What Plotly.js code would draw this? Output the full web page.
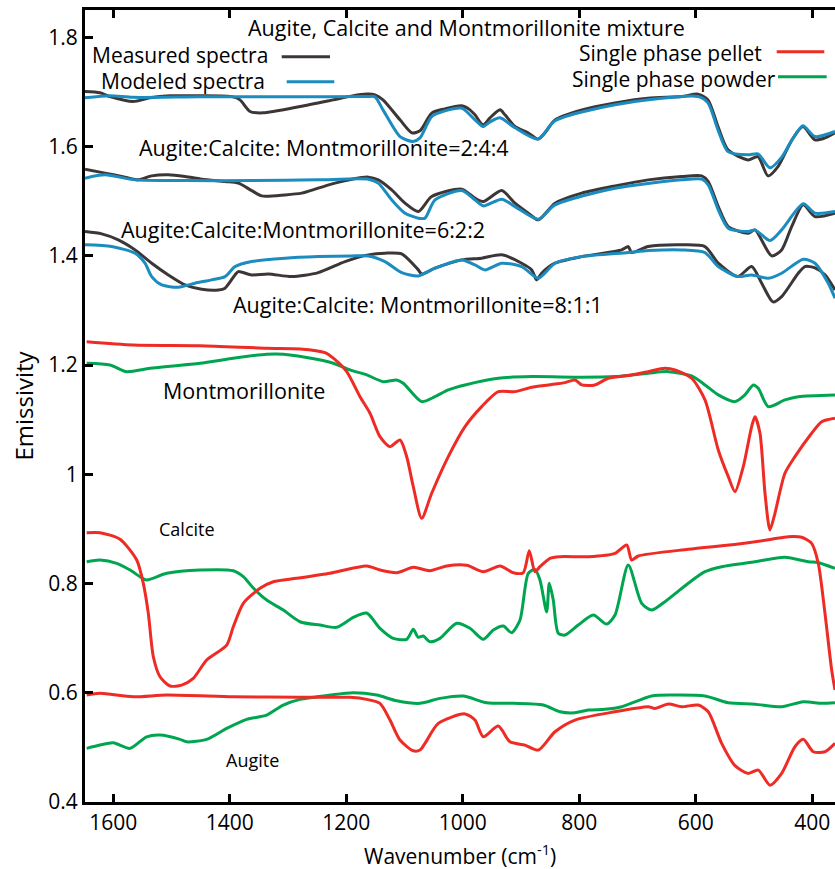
<!DOCTYPE html>
<html><head><meta charset="utf-8">
<script src="https://cdn.plot.ly/plotly-3.0.1.min.js"></script>
<style>html,body{margin:0;padding:0;background:#fff}#chart{width:835px;height:869px}</style>
</head><body><div id="chart"></div>
<script>
// ---- Mixture Augite:Calcite:Montmorillonite = 2:4:4 ----
const mix244_x_meas = [1648.6,1622.8,1605.7,1566.2,1537.0,1502.7,1451.2,1394.5,1382.5,1365.3,1343.0,1279.5,1222.8,1193.7,1164.5,1150.8,1137.0,1107.8,1087.2,1073.5,1053.4,1030.6,1001.9,987.7,979.1,965.3,953.3,936.1,927.6,910.4,888.1,870.9,858.9,841.7,795.4,738.7,682.1,623.7,596.3,579.1,561.9,544.7,510.4,493.2,476.1,458.9,434.8,416.0,395.4,378.2,361.0];
const mix244_y_meas = [1.7007,1.6984,1.6916,1.6824,1.6892,1.6929,1.6929,1.6910,1.6855,1.6641,1.6617,1.6733,1.6855,1.6919,1.6960,1.6947,1.6855,1.6489,1.6251,1.6288,1.6612,1.6690,1.6745,1.6672,1.6581,1.6397,1.6526,1.6672,1.6581,1.6366,1.6251,1.6136,1.6251,1.6489,1.6672,1.6800,1.6886,1.6916,1.6960,1.6855,1.6366,1.5940,1.5756,1.5817,1.5463,1.5634,1.6123,1.6366,1.6123,1.6159,1.6251];
const mix244_x_model = [1648.6,1605.7,1566.2,1451.2,1279.5,1164.5,1150.8,1137.0,1107.8,1085.5,1073.5,1053.4,1030.6,1001.9,979.1,965.3,953.3,936.1,910.4,870.9,841.7,738.7,596.3,579.1,561.9,544.7,510.4,493.2,472.7,452.1,434.8,416.0,395.4,361.0];
const mix244_y_model = [1.6892,1.6929,1.6901,1.6910,1.6910,1.6916,1.6910,1.6672,1.6183,1.6092,1.6159,1.6549,1.6654,1.6703,1.6489,1.6366,1.6452,1.6526,1.6343,1.6136,1.6471,1.6764,1.6916,1.6800,1.6306,1.5908,1.5848,1.5866,1.5610,1.5811,1.6123,1.6379,1.6183,1.6275];

// ---- Mixture 6:2:2 ----
const mix622_x_meas = [1648.6,1614.2,1579.9,1557.1,1534.1,1505.6,1476.9,1448.2,1408.2,1385.4,1362.4,1345.2,1305.2,1276.6,1248.1,1219.4,1190.7,1162.2,1145.1,1122.1,1099.2,1076.4,1053.4,1001.9,979.1,964.8,933.2,910.4,887.6,870.4,841.7,795.9,738.7,681.6,624.2,589.9,578.6,561.4,544.2,510.0,498.4,469.8,452.6,435.4,415.5,395.4,361.0];
const mix622_y_meas = [1.5586,1.5513,1.5440,1.5390,1.5463,1.5482,1.5451,1.5403,1.5359,1.5330,1.5194,1.5097,1.5115,1.5147,1.5238,1.5330,1.5403,1.5440,1.5390,1.5207,1.4963,1.4810,1.5084,1.5220,1.5055,1.4993,1.5194,1.4963,1.4780,1.4658,1.4963,1.5147,1.5280,1.5390,1.5451,1.5463,1.5359,1.4901,1.4535,1.4414,1.4474,1.3998,1.4108,1.4535,1.4932,1.4718,1.4780];
const mix622_x_model = [1648.6,1614.2,1562.7,1476.9,1362.4,1248.1,1162.2,1145.1,1122.1,1099.2,1076.4,1064.9,1047.7,1001.9,979.1,964.8,933.2,910.4,870.4,841.7,738.7,624.2,589.9,578.6,561.4,544.2,510.0,498.4,472.7,452.6,415.5,395.4,361.0];
const mix622_y_model = [1.5421,1.5482,1.5390,1.5377,1.5377,1.5390,1.5403,1.5330,1.5024,1.4780,1.4689,1.4689,1.5024,1.5194,1.5024,1.4914,1.5037,1.4901,1.4670,1.4932,1.5238,1.5390,1.5403,1.5299,1.4841,1.4506,1.4443,1.4474,1.4279,1.4474,1.4951,1.4780,1.4810];

// ---- Mixture 8:1:1 ----
const mix811_x_meas = [1648.6,1619.9,1591.4,1562.7,1534.1,1505.6,1476.9,1448.2,1419.7,1408.2,1391.1,1385.4,1362.4,1333.9,1293.7,1248.1,1202.2,1162.2,1133.6,1104.9,1076.4,1070.6,1047.7,1001.9,967.6,933.2,898.9,881.7,873.2,864.6,841.7,795.9,727.2,715.9,710.1,681.6,624.2,584.2,561.4,528.0,504.1,486.9,467.5,452.6,424.1,412.6,395.4,378.2,361.0];
const mix811_y_meas = [1.4443,1.4401,1.4291,1.4108,1.3864,1.3650,1.3467,1.3388,1.3375,1.3407,1.3650,1.3711,1.3650,1.3668,1.3619,1.3692,1.3894,1.4017,1.4048,1.4035,1.3742,1.3668,1.3773,1.3925,1.3957,1.4017,1.3864,1.3742,1.3559,1.3681,1.3864,1.3985,1.4108,1.4169,1.4059,1.4169,1.4200,1.4169,1.3864,1.3620,1.3803,1.3498,1.3156,1.3253,1.3681,1.3803,1.3779,1.3650,1.3375];
const mix811_x_model = [1648.6,1602.7,1562.7,1545.6,1534.1,1516.9,1488.4,1459.7,1431.1,1408.2,1391.1,1362.4,1305.2,1248.1,1190.7,1162.2,1133.6,1104.9,1076.4,1047.7,1001.9,979.1,961.9,933.2,898.9,870.4,841.7,795.9,715.9,681.6,624.2,584.2,561.4,528.0,504.1,475.6,452.6,415.5,395.4,372.6,361.0];
const mix811_y_model = [1.4200,1.4169,1.4048,1.3864,1.3619,1.3467,1.3425,1.3498,1.3559,1.3619,1.3802,1.3894,1.3956,1.3985,1.3998,1.3998,1.3894,1.3692,1.3632,1.3773,1.3925,1.3833,1.3742,1.3864,1.3803,1.3590,1.3864,1.3985,1.4059,1.4095,1.4108,1.4059,1.3802,1.3620,1.3650,1.3590,1.3681,1.3938,1.3864,1.3498,1.3223];

// ---- Montmorillonite single phase ----
const mont_x_pellet = [1645.7,1565.7,1451.2,1336.7,1279.5,1236.6,1222.3,1199.3,1176.5,1159.3,1142.2,1125.0,1107.8,1096.3,1085.0,1070.6,1053.4,1024.9,996.2,967.6,939.1,910.4,881.7,853.2,824.6,807.4,795.9,773.1,750.3,710.1,681.6,652.9,635.7,607.1,584.2,561.4,544.2,532.7,518.5,504.1,498.4,489.8,481.2,472.7,464.1,447.0,429.8,401.1,383.9,361.0];
const mont_y_pellet = [1.2428,1.2368,1.2355,1.2308,1.2295,1.2227,1.2125,1.1879,1.1421,1.1117,1.0689,1.0506,1.0628,1.0322,0.9773,0.9194,0.9652,1.0322,1.0872,1.1238,1.1513,1.1513,1.1593,1.1636,1.1678,1.1727,1.1636,1.1636,1.1758,1.1819,1.1879,1.1941,1.1910,1.1758,1.1361,1.0445,0.9956,0.9681,1.0139,1.0872,1.1055,1.0751,0.9652,0.8980,0.9286,1.0018,1.0322,1.0751,1.0963,1.1026];
const mont_x_powder = [1645.7,1605.7,1577.0,1537.0,1451.2,1394.0,1336.7,1308.2,1250.8,1222.3,1193.7,1165.0,1136.5,1113.5,1102.2,1070.6,1047.7,1024.9,996.2,939.1,881.7,795.9,738.7,681.6,647.2,607.1,584.2,561.4,532.7,515.6,501.3,492.7,475.6,447.0,424.1,361.0];
const mont_y_powder = [1.2033,1.2002,1.1879,1.1941,1.2033,1.2125,1.2198,1.2198,1.2106,1.2033,1.1910,1.1819,1.1696,1.1727,1.1667,1.1330,1.1421,1.1544,1.1636,1.1758,1.1788,1.1777,1.1788,1.1850,1.1879,1.1800,1.1636,1.1453,1.1330,1.1453,1.1636,1.1575,1.1238,1.1361,1.1421,1.1453];

// ---- Calcite single phase ----
const calc_x_pellet = [1645.7,1622.8,1588.5,1559.8,1548.5,1539.9,1531.3,1519.8,1502.7,1482.6,1462.7,1439.7,1405.3,1394.0,1376.8,1348.2,1325.3,1285.2,1228.0,1165.0,1142.2,1113.5,1085.0,1056.5,1027.7,993.3,964.8,936.1,913.3,896.2,885.9,876.1,867.5,850.3,833.2,784.6,738.7,718.6,710.1,698.7,612.9,527.1,469.8,441.2,418.2,401.1,389.7,378.2,366.7,361.0];
const calc_y_pellet = [0.8931,0.8931,0.8810,0.8430,0.8004,0.7454,0.6659,0.6293,0.6123,0.6141,0.6264,0.6599,0.6873,0.7209,0.7637,0.7912,0.8033,0.8095,0.8187,0.8321,0.8247,0.8198,0.8297,0.8234,0.8321,0.8333,0.8216,0.8321,0.8198,0.8198,0.8601,0.8216,0.8308,0.8462,0.8491,0.8491,0.8553,0.8705,0.8430,0.8504,0.8627,0.8723,0.8810,0.8857,0.8846,0.8736,0.8370,0.7454,0.6416,0.6050];
const calc_x_powder = [1645.7,1622.8,1594.2,1571.3,1554.2,1542.7,1508.3,1451.2,1394.0,1376.8,1359.7,1336.7,1308.2,1279.5,1245.2,1216.5,1188.0,1165.0,1142.2,1119.3,1096.3,1085.0,1076.4,1067.8,1056.5,1039.2,1010.5,987.7,964.8,947.7,930.5,916.1,901.8,887.6,876.1,867.5,856.0,851.5,844.7,836.1,824.6,801.8,776.0,753.0,738.7,715.9,692.9,675.7,652.9,612.9,584.2,555.6,498.4,447.0,406.9,389.7,361.0];
const calc_y_powder = [0.8399,0.8430,0.8370,0.8247,0.8125,0.8064,0.8187,0.8247,0.8234,0.8125,0.7917,0.7697,0.7514,0.7300,0.7239,0.7198,0.7381,0.7460,0.7180,0.6996,0.6978,0.7161,0.7015,0.7039,0.6934,0.6996,0.7271,0.7180,0.6978,0.7149,0.7222,0.7099,0.7332,0.8187,0.8260,0.8064,0.7480,0.8004,0.7700,0.7090,0.7056,0.7239,0.7423,0.7258,0.7423,0.8339,0.7637,0.7514,0.7667,0.8004,0.8216,0.8308,0.8399,0.8480,0.8399,0.8381,0.8278];

// ---- Augite single phase ----
const aug_x_pellet = [1645.7,1622.8,1565.7,1508.3,1394.0,1279.5,1193.7,1165.0,1142.2,1125.0,1107.8,1085.0,1073.5,1064.9,1042.1,996.2,979.1,964.8,939.1,919.0,893.3,870.4,841.7,807.4,738.7,681.6,670.1,647.2,624.2,595.7,578.6,555.6,532.7,510.0,492.7,472.7,452.6,429.8,415.5,398.3,378.2,361.0];
const aug_y_pellet = [0.5958,0.5989,0.5927,0.5958,0.5927,0.5916,0.5916,0.5879,0.5805,0.5500,0.5134,0.4938,0.4951,0.5074,0.5440,0.5613,0.5500,0.5195,0.5390,0.5102,0.5042,0.4951,0.5286,0.5500,0.5652,0.5744,0.5714,0.5795,0.5744,0.5775,0.5652,0.5074,0.4665,0.4524,0.4584,0.4308,0.4524,0.5012,0.5147,0.4920,0.4920,0.5074];
const aug_x_powder = [1645.7,1622.8,1600.0,1571.3,1542.7,1519.8,1485.5,1474.0,1439.7,1405.3,1371.0,1336.7,1308.2,1279.5,1228.0,1188.0,1147.8,1113.5,1073.5,1039.2,999.2,959.0,913.3,861.8,833.2,807.4,784.6,756.0,727.2,675.7,641.4,584.2,544.2,498.4,452.6,415.5,383.9,361.0];
const aug_y_powder = [0.4982,0.5042,0.5084,0.4982,0.5194,0.5225,0.5147,0.5102,0.5147,0.5348,0.5513,0.5592,0.5775,0.5879,0.5958,0.6000,0.5958,0.5853,0.5806,0.5897,0.5940,0.5817,0.5806,0.5775,0.5652,0.5634,0.5684,0.5697,0.5744,0.5940,0.5958,0.5940,0.5817,0.5790,0.5744,0.5836,0.5806,0.5817];

// ---- Tick labels ----
const xTickVals = [1600,1400,1200,1000,800,600,400];
const xTickText = ['1600','1400','1200','1000','800','600','400'];
const yTickVals = [0.4,0.6,0.8,1.0,1.2,1.4,1.6,1.8];
const yTickText = ['0.4','0.6','0.8','1','1.2','1.4','1.6','1.8'];

const C_MEAS = '#3d3637', C_MODEL = '#1b8cbf', C_PELLET = '#ee2b24', C_POWDER = '#00a550';
const FONT = 'Open Sans, Lato, sans-serif';

function tr(x, y, color) {
  return {x: x, y: y, type: 'scatter', mode: 'lines',
          line: {color: color, width: 3, shape: 'spline', smoothing: 0.7},
          showlegend: false, hoverinfo: 'skip'};
}
const data = [
  tr(mix244_x_meas, mix244_y_meas, C_MEAS), tr(mix244_x_model, mix244_y_model, C_MODEL),
  tr(mix622_x_meas, mix622_y_meas, C_MEAS), tr(mix622_x_model, mix622_y_model, C_MODEL),
  tr(mix811_x_meas, mix811_y_meas, C_MEAS), tr(mix811_x_model, mix811_y_model, C_MODEL),
  tr(mont_x_powder, mont_y_powder, C_POWDER), tr(mont_x_pellet, mont_y_pellet, C_PELLET),
  tr(calc_x_powder, calc_y_powder, C_POWDER), tr(calc_x_pellet, calc_y_pellet, C_PELLET),
  tr(aug_x_powder, aug_y_powder, C_POWDER), tr(aug_x_pellet, aug_y_pellet, C_PELLET)
];

function ann(text, x, y, size) {
  return {text: text, x: x, y: y, xref: 'x', yref: 'y', showarrow: false, borderpad: 0,
          font: {family: FONT, size: size, color: '#000'}, xanchor: 'center', yanchor: 'middle'};
}
function seg(x0, x1, y, color) {
  return {type: 'line', xref: 'x', yref: 'y', x0: x0, x1: x1, y0: y, y1: y, line: {color: color, width: 3}};
}

const layout = {
  width: 835, height: 869,
  margin: {l: 85, r: 0, t: 10, b: 67},
  paper_bgcolor: '#fff', plot_bgcolor: '#fff',
  font: {family: FONT, color: '#000'},
  showlegend: false,
  xaxis: {
    range: [1648.6, 361], autorange: false,
    tickmode: 'array', tickvals: xTickVals, ticktext: xTickText,
    ticks: 'inside', ticklen: 8, tickwidth: 3, tickcolor: '#000',
    showline: true, linewidth: 3, linecolor: '#000', mirror: 'ticks',
    showgrid: false, zeroline: false,
    tickfont: {family: FONT, size: 21, color: '#000'}
  },
  yaxis: {
    range: [0.4, 1.85], autorange: false,
    tickmode: 'array', tickvals: yTickVals, ticktext: yTickText,
    ticks: 'inside', ticklen: 8, tickwidth: 3, tickcolor: '#000',
    showline: true, linewidth: 3, linecolor: '#000', mirror: false,
    showgrid: false, zeroline: false,
    tickfont: {family: FONT, size: 21, color: '#000'},
    title: {text: 'Emissivity', font: {family: FONT, size: 24, color: '#000'}, standoff: 8}
  },
  annotations: [
    {text: 'Wavenumber (cm<sup>-1</sup>)', x: 0.5, y: -0.0657, xref: 'paper', yref: 'paper', borderpad: 0,
     showarrow: false, xanchor: 'center', yanchor: 'middle', font: {family: FONT, size: 21, color: '#000'}},
    ann('Augite, Calcite and Montmorillonite mixture', 994.5, 1.8175, 21.5),
    ann('Measured spectra', 1485.8, 1.768, 21),
    ann('Modeled spectra', 1480.3, 1.7209, 21),
    ann('Single phase pellet', 642.9, 1.772, 21),
    ann('Single phase powder', 637.1, 1.7234, 21),
    ann('Augite:Calcite: Montmorillonite=2:4:4', 1237.9, 1.5982, 21.5),
    ann('Augite:Calcite:Montmorillonite=6:2:2', 1274.5, 1.448, 21.5),
    ann('Augite:Calcite: Montmorillonite=8:1:1', 1076.6, 1.3101, 21.5),
    ann('Montmorillonite', 1375.3, 1.1531, 21.5),
    ann('Calcite', 1474, 0.8993, 18),
    ann('Augite', 1361.0, 0.4767, 18)
  ],
  shapes: [
    seg(1310.9, 1228.0, 1.7643, C_MEAS),
    seg(1302.3, 1220.6, 1.7185, C_MODEL),
    seg(461.1, 379.4, 1.7734, C_PELLET),
    seg(458.9, 375.3, 1.7277, C_POWDER)
  ]
};
Plotly.newPlot('chart', data, layout, {displayModeBar: false, staticPlot: true});
</script></body></html>
